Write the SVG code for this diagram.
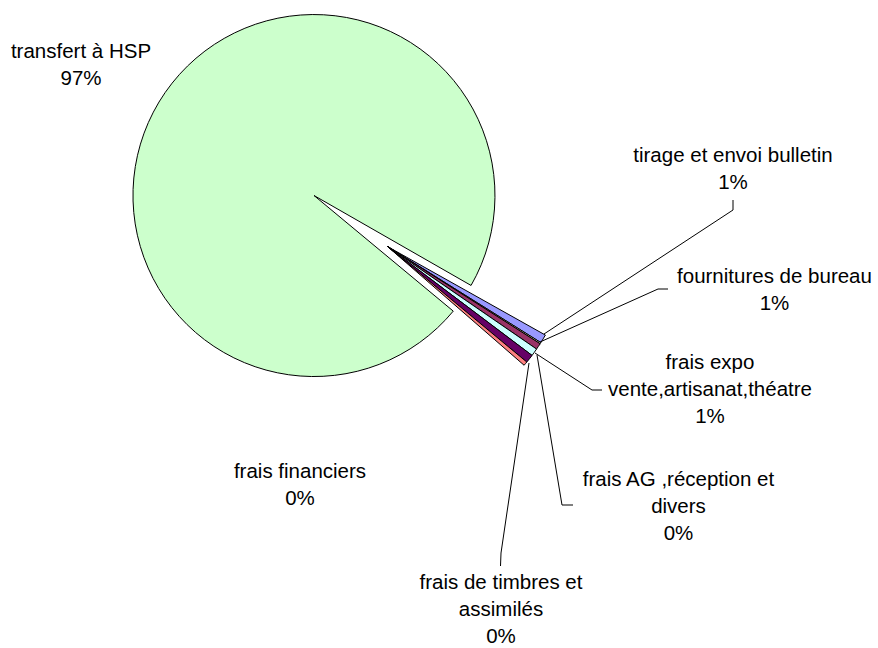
<svg xmlns="http://www.w3.org/2000/svg" width="878" height="648" viewBox="0 0 878 648">
<style>
.s{stroke:#000;stroke-width:1;stroke-linejoin:round}
.t{font-family:"Liberation Sans",Arial,sans-serif;font-size:20.5px;fill:#000;text-anchor:middle}
.l{fill:none;stroke:#000;stroke-width:1}
</style>
<rect width="878" height="648" fill="#fff"/>
<g id="slice-transfert">
<path class="s" fill="#CCFFCC" d="M314,195.5 L453.26,311.12 A181,181 0 1 1 471.06,285.45 Z"/>
</g>
<g id="slice-tirage"><path class="s" fill="#9999FF" d="M387.5,246.5 L545.36,335.06 A181,181 0 0 1 540.87,342.63 Z"/></g>
<g id="slice-thin"><path class="s" fill="#FFFFCC" d="M387.5,246.5 L540.87,342.63 A181,181 0 0 1 540.15,343.75 Z"/></g>
<g id="slice-fournitures"><path class="s" fill="#993366" d="M387.5,246.5 L540.15,343.75 A181,181 0 0 1 536.54,349.06 Z"/></g>
<g id="slice-expo"><path class="s" fill="#CCFFFF" d="M387.5,246.5 L536.54,349.06 A181,181 0 0 1 532.05,355.43 Z"/></g>
<g id="slice-timbres"><path class="s" fill="#660066" d="M387.5,246.5 L532.05,355.43 A181,181 0 0 1 526.79,362.04 Z"/></g>
<g id="slice-financiers"><path class="s" fill="#FF8080" d="M387.5,246.5 L526.79,362.04 A181,181 0 0 1 524.10,365.25 Z"/></g>
<g id="connectors">
<polyline class="l" points="544,334 733,210 733,200"/>
<polyline class="l" points="540,342 658,289 668,289"/>
<polyline class="l" points="535,353 592,390 602,390"/>
<polyline class="l" points="537,355 562,505 573,505"/>
<polyline class="l" points="529,363 501,553 500.5,566"/>
</g>
<g id="label-transfert"><text class="t" x="81" y="58">transfert à HSP</text><text class="t" x="81" y="85">97%</text></g>
<g id="label-tirage"><text class="t" x="733" y="162">tirage et envoi bulletin</text><text class="t" x="733" y="189">1%</text></g>
<g id="label-fournitures"><text class="t" x="774.5" y="283">fournitures de bureau</text><text class="t" x="774.5" y="310">1%</text></g>
<g id="label-expo"><text class="t" x="710" y="369">frais expo</text><text class="t" x="710" y="396">vente,artisanat,théatre</text><text class="t" x="710" y="423">1%</text></g>
<g id="label-ag"><text class="t" x="678.5" y="486">frais AG ,réception et</text><text class="t" x="678.5" y="513">divers</text><text class="t" x="678.5" y="540">0%</text></g>
<g id="label-timbres"><text class="t" x="501" y="589">frais de timbres et</text><text class="t" x="501" y="616">assimilés</text><text class="t" x="501" y="643">0%</text></g>
<g id="label-financiers"><text class="t" x="300" y="478">frais financiers</text><text class="t" x="300" y="505">0%</text></g>
</svg>
